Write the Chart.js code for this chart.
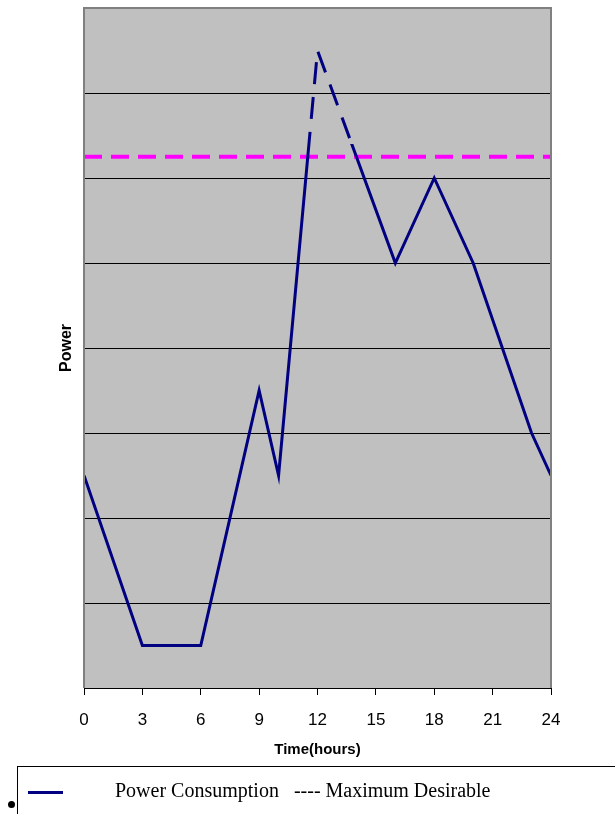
<!DOCTYPE html>
<html>
<head>
<meta charset="utf-8">
<script src="https://cdn.jsdelivr.net/npm/chart.js@4.4.1/dist/chart.umd.min.js"></script>
<style>
  html, body { margin: 0; padding: 0; background: #fff; }
  #wrap { position: relative; width: 615px; height: 814px; overflow: hidden; }
  #c { position: absolute; left: 0; top: 0; }
  #legend {
    position: absolute; left: 17px; top: 766px; width: 640px; height: 80px;
    border: 1px solid #000; box-sizing: border-box;
    font-family: "Liberation Serif", "Times New Roman", serif; font-size: 20px; color: #000;
  }
  #legend .swatch { position: absolute; left: 10px; top: 24px; width: 35px; height: 3px; background: #000080; }
  #legend .txt { position: absolute; left: 97px; top: 12px; white-space: pre; }
  #bullet { position: absolute; left: 8px; top: 801px; width: 7px; height: 7px; border-radius: 50%; background: #000; }
</style>
</head>
<body>
<div id="wrap">
  <canvas id="c" width="615" height="814"></canvas>
  <div id="legend"><div class="swatch"></div><div class="txt">Power Consumption   ---- Maximum Desirable</div></div>
  <div id="bullet"></div>
</div>
<script>
// Hourly power readings over one day
const hours = [0, 3, 6, 9, 10, 12, 16, 18, 20, 23, 24];
const power = [2.5, 0.5, 0.5, 3.5, 2.5, 7.5, 5, 6, 5, 3, 2.5];
const xTicks = [0, 3, 6, 9, 12, 15, 18, 21, 24];
const maxDesirable = 6.25;
// part of the consumption curve above this level is drawn dashed
const dashLevel = 6.4;

const powerPoints = hours.map((h, i) => ({ x: h, y: power[i] }));
const limitPoints = [{ x: xTicks[0], y: maxDesirable }, { x: xTicks[xTicks.length - 1], y: maxDesirable }];

// grey plot background and border
const plotFrame = {
  id: 'plotFrame',
  beforeDraw(chart) {
    const { ctx, chartArea: a } = chart;
    ctx.save();
    ctx.fillStyle = '#C0C0C0';
    ctx.fillRect(a.left, a.top, a.right - a.left, a.bottom - a.top);
    ctx.restore();
  },
  afterDatasetsDraw(chart) {
    const { ctx, chartArea: a } = chart;
    ctx.save();
    ctx.strokeStyle = '#808080';
    ctx.lineWidth = 2;
    ctx.beginPath();
    ctx.moveTo(a.left, a.bottom);
    ctx.lineTo(a.left, a.top);
    ctx.lineTo(a.right, a.top);
    ctx.lineTo(a.right, a.bottom);
    ctx.stroke();
    ctx.restore();
  }
};

// split the consumption curve into a solid part and a dashed part by level
const levelClip = {
  id: 'levelClip',
  beforeDatasetDraw(chart, args) {
    const ds = chart.data.datasets[args.index];
    if (!ds.band) return;
    const { ctx } = chart;
    const yPix = chart.scales.y.getPixelForValue(dashLevel);
    ctx.save();
    ctx.beginPath();
    if (ds.band === 'low') ctx.rect(0, yPix, chart.width, chart.height - yPix);
    else ctx.rect(0, 0, chart.width, yPix);
    ctx.clip();
  },
  afterDatasetDraw(chart, args) {
    const ds = chart.data.datasets[args.index];
    if (!ds.band) return;
    chart.ctx.restore();
  }
};

new Chart(document.getElementById('c'), {
  type: 'line',
  data: {
    datasets: [
      {
        label: 'Maximum Desirable',
        data: limitPoints,
        borderColor: '#FF00FF',
        borderWidth: 4,
        borderDash: [18, 9],
        pointRadius: 0,
        fill: false,
        clip: 4,
        order: 3
      },
      {
        label: 'Power Consumption',
        band: 'low',
        data: powerPoints,
        borderColor: '#000080',
        borderWidth: 3,
        pointRadius: 0,
        tension: 0,
        fill: false,
        order: 2
      },
      {
        label: 'Power Consumption (peak)',
        band: 'high',
        data: powerPoints,
        borderColor: '#000080',
        borderWidth: 3,
        borderDash: [22, 13],
        pointRadius: 0,
        tension: 0,
        fill: false,
        order: 1
      }
    ]
  },
  options: {
    responsive: false,
    animation: false,
    layout: { padding: { top: 8, right: 64, left: 0, bottom: 0 } },
    plugins: {
      legend: { display: false },
      tooltip: { enabled: false }
    },
    scales: {
      x: {
        type: 'linear',
        min: 0,
        max: 24,
        afterBuildTicks(scale) { scale.ticks = xTicks.map(v => ({ value: v })); },
        afterFit(scale) { scale.height = 126; },
        border: { color: '#000', width: 1 },
        grid: { drawOnChartArea: false, drawTicks: true, tickLength: 7, tickColor: '#000' },
        ticks: {
          color: '#000',
          font: { family: 'Liberation Sans, Arial, sans-serif', size: 17 },
          padding: 15,
          maxRotation: 0,
          autoSkip: false
        },
        title: {
          display: true,
          text: 'Time(hours)',
          color: '#000',
          font: { family: 'Liberation Sans, Arial, sans-serif', size: 15, weight: 'bold' },
          padding: { top: 0, bottom: 55 }
        }
      },
      y: {
        min: 0,
        max: 8,
        afterFit(scale) { scale.width = 84; },
        ticks: { display: false, stepSize: 1 },
        border: { display: false },
        grid: {
          drawTicks: false,
          lineWidth: 1,
          color: ctx => (ctx.tick && (ctx.tick.value === 0 || ctx.tick.value === 8)) ? 'rgba(0,0,0,0)' : '#000'
        },
        title: {
          display: true,
          text: 'Power',
          color: '#000',
          font: { family: 'Liberation Sans, Arial, sans-serif', size: 16, weight: 'bold' },
          padding: { top: 57, bottom: 0 }
        }
      }
    }
  },
  plugins: [plotFrame, levelClip]
});
</script>
</body>
</html>
